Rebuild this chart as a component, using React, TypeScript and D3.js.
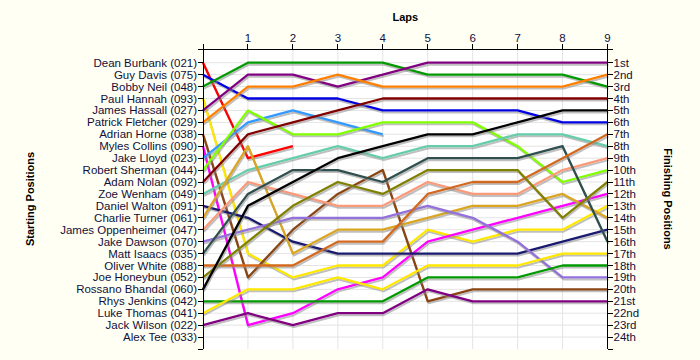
import React from "react";
import * as d3 from "d3";

// starting grid, top to bottom
const drivers = [
  "Dean Burbank (021)",
  "Guy Davis (075)",
  "Bobby Neil (048)",
  "Paul Hannah (093)",
  "James Hassall (027)",
  "Patrick Fletcher (029)",
  "Adrian Horne (038)",
  "Myles Collins (090)",
  "Jake Lloyd (023)",
  "Robert Sherman (044)",
  "Adam Nolan (092)",
  "Zoe Wenham (049)",
  "Daniel Walton (091)",
  "Charlie Turner (061)",
  "James Oppenheimer (047)",
  "Jake Dawson (070)",
  "Matt Isaacs (035)",
  "Oliver White (088)",
  "Joe Honeybun (052)",
  "Rossano Bhandal (060)",
  "Rhys Jenkins (042)",
  "Luke Thomas (041)",
  "Jack Wilson (022)",
  "Alex Tee (033)",
];

// position at the end of each lap (index 0 = grid), one row per driver
const lapPositions: number[][] = [
  [1, 9, 8],
  [2, 4, 4, 4, 5, 5, 5, 5, 6, 6],
  [3, 1, 1, 1, 1, 2, 2, 2, 2, 3],
  [4, 17, 19, 18, 18, 15, 16, 15, 15, 13],
  [5, 2, 2, 3, 2, 1, 1, 1, 1, 1],
  [6, 3, 3, 2, 3, 3, 3, 3, 3, 2],
  [7, 19, 15, 12, 10, 21, 20, 20, 20, 20],
  [8, 23, 22, 20, 19, 16, 15, 14, 13, 12],
  [9, 6, 5, 6, 7],
  [10, 5, 7, 7, 6, 6, 6, 8, 11, 10],
  [11, 7, 6, 5, 4, 4, 4, 4, 4, 4],
  [12, 10, 9, 8, 9, 8, 8, 7, 7, 8],
  [13, 14, 16, 17, 17, 17, 17, 17, 16, 15],
  [14, 8, 17, 15, 15, 14, 13, 13, 12, 14],
  [15, 11, 12, 13, 13, 11, 12, 12, 10, 9],
  [16, 15, 14, 14, 14, 13, 14, 16, 19, 19],
  [17, 12, 10, 10, 11, 9, 9, 9, 8, 16],
  [18, 18, 18, 16, 16, 12, 11, 11, 9, 7],
  [19, 16, 13, 11, 12, 10, 10, 10, 14, 11],
  [20, 13, 11, 9, 8, 7, 7, 6, 5, 5],
  [21, 21, 21, 21, 21, 19, 19, 19, 18, 18],
  [22, 20, 20, 19, 20, 18, 18, 18, 17, 17],
  [23, 22, 23, 22, 22, 20, 21, 21, 21, 21],
  [],
];

const lapTicks = [1, 2, 3, 4, 5, 6, 7, 8, 9];

const finishLabels = [
  "1st", "2nd", "3rd", "4th", "5th", "6th", "7th", "8th", "9th", "10th",
  "11th", "12th", "13th", "14th", "15th", "16th", "17th", "18th", "19th",
  "20th", "21st", "22nd", "23rd", "24th",
];

// one colour per driver, same order as drivers
const lineColors = [
  "#ff0000", "#0000e0", "#009a00", "#ffe800", "#800080", "#ff8000",
  "#8b4513", "#ff00ff", "#3399ff", "#80ff00", "#800000", "#66cdaa",
  "#191970", "#daa520", "#fa9a7a", "#9370db", "#2f4f4f", "#d2691e",
  "#808000", "#000000", "#009a00", "#ffe800", "#800080", "#999999",
];

const W = 700;
const H = 360;
const left = 203;
const right = 607.5;
const top = 49;
const bottom = 349;
const font = "'Liberation Sans', Arial, sans-serif";
const textColor = "#10103a";

export default function App() {
  const x = d3.scaleLinear().domain([0, 9]).range([left, right]);
  const y = d3.scaleLinear().domain([-0.15, 25]).range([top, bottom]);
  const rows = d3.range(1, drivers.length + 1);

  const line = d3
    .line<number>()
    .x((_, i) => x(i))
    .y((d) => y(d));

  return (
    <svg
      width={W}
      height={H}
      style={{ position: "absolute", left: 0, top: 0, background: "#fffff4" }}
      fontFamily={font}
    >
      <rect x={left} y={top} width={right - left} height={bottom - top} fill="#ffffff" />

      {/* grid */}
      <g stroke="#e4e4e4" strokeWidth={1}>
        {rows.map((p) => (
          <line key={"h" + p} x1={left} x2={right} y1={y(p)} y2={y(p)} />
        ))}
        {lapTicks.map((l) => (
          <line key={"v" + l} x1={x(l)} x2={x(l)} y1={top} y2={bottom} />
        ))}
      </g>

      {/* lap lines with drop shadow */}
      <g fill="none" strokeLinejoin="round">
        {lapPositions.map((pos, i) =>
          pos.length > 1 ? (
            <g key={i}>
              <path d={line(pos) || ""} stroke="#8a8a8a" strokeOpacity={0.55} strokeWidth={2} transform="translate(1,2)" />
              <path d={line(pos) || ""} stroke={lineColors[i]} strokeWidth={2.3} />
            </g>
          ) : null
        )}
      </g>

      {/* axes */}
      <g stroke="#000" strokeWidth={1} shapeRendering="crispEdges">
        <line x1={left} x2={left} y1={top} y2={bottom} />
        <line x1={right} x2={right} y1={top} y2={bottom} />
        <line x1={left} x2={right} y1={top} y2={top} />
        {[...rows, -0.15, 25].map((p) => (
          <g key={"t" + p}>
            <line x1={left - 5} x2={left} y1={y(p)} y2={y(p)} />
            <line x1={right} x2={right + 5} y1={y(p)} y2={y(p)} />
          </g>
        ))}
        {[0, ...lapTicks].map((l) => (
          <line key={"lt" + l} x1={x(l)} x2={x(l)} y1={top - 5} y2={top} />
        ))}
      </g>

      <g fontSize={11.5} fill={textColor}>
        {drivers.map((d, i) => (
          <text key={d} x={left - 6} y={y(i + 1) + 4} textAnchor="end">
            {d}
          </text>
        ))}
        {finishLabels.map((d, i) => (
          <text key={d} x={right + 6} y={y(i + 1) + 4}>
            {d}
          </text>
        ))}
        {lapTicks.map((l) => (
          <text key={"ll" + l} x={x(l)} y={top - 7} textAnchor="middle">
            {l}
          </text>
        ))}
      </g>

      <g fontSize={11} fontWeight="bold" fill="#000">
        <text x={(left + right) / 2} y={21} textAnchor="middle">
          Laps
        </text>
        <text transform={`translate(34,${(top + bottom) / 2}) rotate(-90)`} textAnchor="middle">
          Starting Positions
        </text>
        <text transform={`translate(664,${(top + bottom) / 2}) rotate(90)`} textAnchor="middle">
          Finishing Positions
        </text>
      </g>
    </svg>
  );
}
